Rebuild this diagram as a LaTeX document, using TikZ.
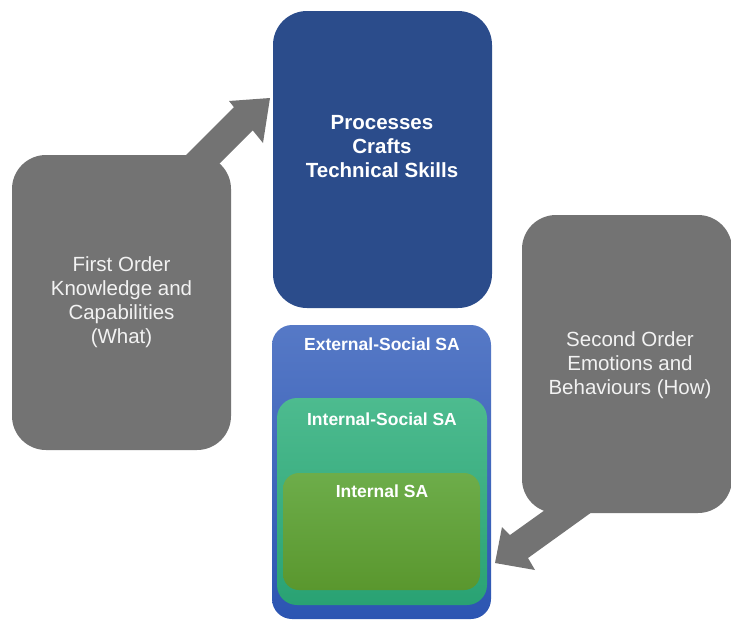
\documentclass[tikz,border=0pt]{standalone}
\usepackage{fontspec}
\setmainfont{Liberation Sans}
\definecolor{navy}{HTML}{2B4C8B}
\definecolor{slate}{HTML}{737373}
\definecolor{extTop}{HTML}{5679C6}
\definecolor{extBot}{HTML}{2C55B2}
\definecolor{socTop}{HTML}{4DBB8F}
\definecolor{socBot}{HTML}{29A273}
\definecolor{inTop}{HTML}{6DAD4A}
\definecolor{inBot}{HTML}{5A972E}
\definecolor{softwhite}{HTML}{F2F2F2}
\begin{document}
\begin{tikzpicture}[x=1pt,y=-1pt,
  box/.style={rectangle, inner sep=0pt, draw=none},
  graybox/.style={box, fill=slate, rounded corners=34pt, text=softwhite,
    align=center, font=\fontsize{20.5}{24}\selectfont},
  callout/.style={fill=slate, draw=none},
  boldlabel/.style={text=white, font=\bfseries\fontsize{17.5}{20}\selectfont, inner sep=0pt}
]
\useasboundingbox (0,0) rectangle (731,619);

% arrow tails of the two callouts
\coordinate (la1) at (171,170);
\coordinate (la2) at (233.9,107.1);
\coordinate (la3) at (229,101);
\coordinate (latip) at (270,98);
\coordinate (la4) at (263,143);
\coordinate (la5) at (252.7,130.3);
\coordinate (la6) at (208,175);
\fill[callout] (la1) -- (la2) -- (la3) -- (latip) -- (la4) -- (la5) -- (la6) -- cycle;

\coordinate (ra1) at (565,495.7);
\coordinate (ra2) at (510,535);
\coordinate (ra3) at (502,527);
\coordinate (ratip) at (495,563);
\coordinate (ra4) at (535,570);
\coordinate (ra5) at (528,558);
\coordinate (ra6) at (605,502.6);
\fill[callout] (ra1) -- (ra2) -- (ra3) -- (ratip) -- (ra4) -- (ra5) -- (ra6) -- cycle;

% first and second order callouts
\node[graybox, minimum width=219pt, minimum height=295pt] (first) at (121.5,302.5)
  {First Order\\Knowledge and\\Capabilities\\(What)};
\node[graybox, minimum width=210pt, minimum height=298pt] (second) at (627,364) {};
\node[text=softwhite, align=center, font=\fontsize{20.5}{24}\selectfont, inner sep=0pt]
  (secondtext) at (630,365) {Second Order\\Emotions and\\Behaviours (How)};

% processes box
\node[box, fill=navy, rounded corners=34pt, minimum width=219pt, minimum height=297pt]
  (proc) at (382.5,159.5) {};
\node[text=white, align=center, font=\bfseries\fontsize{20.5}{24}\selectfont, inner sep=0pt]
  (proctext) at (382,147) {Processes\\Crafts\\Technical Skills};

% nested situational awareness boxes
\node[box, shade, top color=extTop, bottom color=extBot, rounded corners=20pt,
  minimum width=219pt, minimum height=294pt] (ext) at (381.5,472) {};
\node[boldlabel] (exttext) at (382,344) {External-Social SA};

\node[box, shade, top color=socTop, bottom color=socBot, rounded corners=20pt,
  minimum width=210pt, minimum height=207pt] (soc) at (382,501.5) {};
\node[boldlabel] (soctext) at (382,419) {Internal-Social SA};

\node[box, shade, top color=inTop, bottom color=inBot, rounded corners=16pt,
  minimum width=197pt, minimum height=117pt] (inner) at (381.5,531.5) {};
\node[boldlabel] (innertext) at (382,491) {Internal SA};
\end{tikzpicture}
\end{document}
